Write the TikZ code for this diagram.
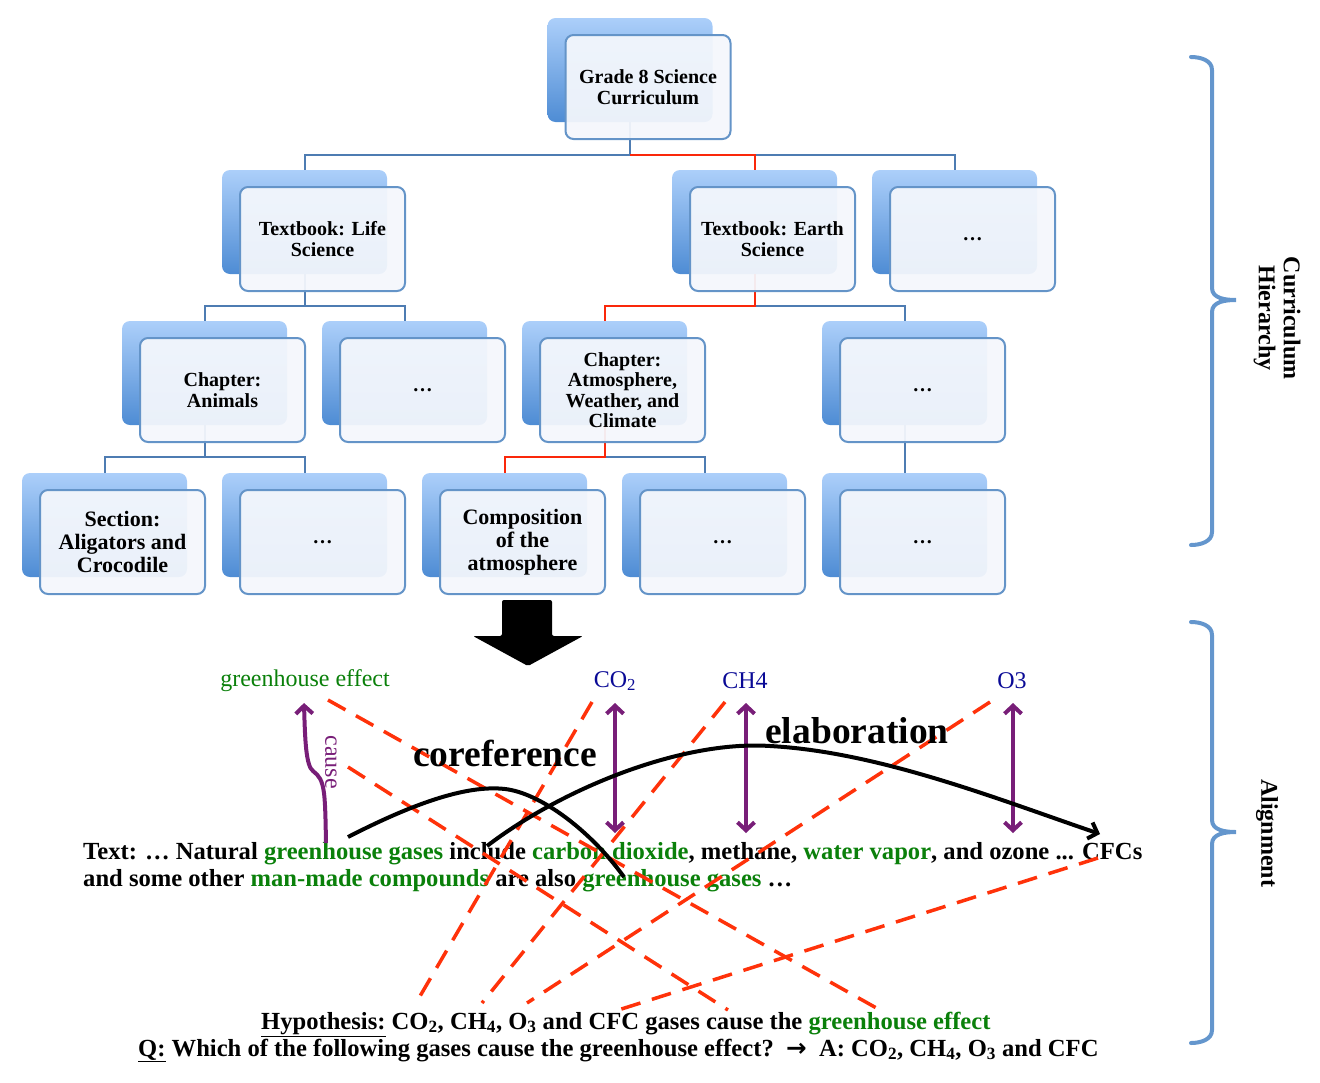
\documentclass[tikz,border=0pt]{standalone}
\usepackage{fontspec}
\setmainfont{Liberation Serif}
\newfontfamily\symfont{DejaVu Sans}
\usepackage{tikz}
\usetikzlibrary{arrows.meta}
\usetikzlibrary{calc}
\usetikzlibrary{positioning}

\definecolor{bxtop}{RGB}{172,207,250}
\definecolor{bxbot}{RGB}{78,140,212}
\definecolor{bxline}{RGB}{100,148,200}
\definecolor{bxfill}{RGB}{244,247,252}
\definecolor{treeline}{RGB}{78,124,178}
\definecolor{treered}{RGB}{250,40,10}
\definecolor{dashred}{RGB}{255,50,10}
\definecolor{gasgreen}{RGB}{10,128,10}
\definecolor{gasblue}{RGB}{10,10,150}
\definecolor{relpurple}{RGB}{120,30,120}
\definecolor{bracecol}{RGB}{100,150,205}

\newcommand{\gr}[1]{\textcolor{gasgreen}{#1}}
\newcommand{\tsub}[1]{\textsubscript{#1}}

\begin{document}
\begin{tikzpicture}[
	x=1pt, y=-1pt,
  > = {Straight Barb[length=8pt,width=17pt]},
  backbox/.style = {rounded corners=8pt, minimum width=165pt, minimum height=104pt, top color=bxtop, bottom color=bxbot},
  frontbox/.style = {draw=bxline, line width=2pt, rounded corners=8pt, minimum width=165pt, minimum height=104pt,
    fill=bxfill, fill opacity=0.94, text opacity=1, align=center, font=\fontsize{20}{20.5}\selectfont\bfseries},
  bigbox/.style = {frontbox, font=\fontsize{22}{23}\selectfont\bfseries},
  tree/.style = {draw=treeline, line width=2pt},
  hot/.style = {draw=treered, line width=2pt},
  corr/.style = {dashred, line width=3.5pt, dash pattern=on 20pt off 12pt},
  rel/.style = {relpurple, line width=4pt},
  curve/.style = {black, line width=4pt},
  txt/.style = {font=\fontsize{24.6}{27}\selectfont\bfseries, inner sep=0pt},
  word/.style = {font=\fontsize{24}{27}\selectfont, inner sep=0pt},
  brace/.style = {bracecol, line width=4pt, line cap=round}
  ]
	\useasboundingbox (0,0) rectangle (1320,1082);

	% hierarchy: back boxes
	\foreach \n/\x/\y in {grade/648/87, life/322.5/239, earth/772.5/239, more1/972.5/239,
	    animals/222.5/390, more2/422.5/390, atmos/622.5/390, more3/922.5/390,
	    section/122.5/542, more4/322.5/542, compo/522.5/542, more5/722.5/542, more6/922.5/542}
	  \node[backbox] (b\n) at (\x-18,\y-17) {};

	% connectors
	\draw[tree] (bgrade.south) -- ++(0,33) -| (blife.north);
	\draw[tree] (bgrade.south) -- ++(0,33) -| (bmore1.north);
	\draw[hot] ($(bgrade.south)+(0,33)$) -| (bearth.north);
	\draw[tree] (blife.south) -- ++(0,32) -| (banimals.north);
	\draw[tree] (blife.south) -- ++(0,32) -| (bmore2.north);
	\draw[tree] (bearth.south) -- ++(0,32) -| (bmore3.north);
	\draw[hot] (bearth.south) -- ++(0,32) -| (batmos.north);
	\draw[tree] (banimals.south) -- ++(0,32) -| (bsection.north);
	\draw[tree] (banimals.south) -- ++(0,32) -| (bmore4.north);
	\draw[tree] (batmos.south) -- ++(0,32) -| (bmore5.north);
	\draw[hot] (batmos.south) -- ++(0,32) -| (bcompo.north);
	\draw[tree] (bmore3.south) -- (bmore6.north);

	% hierarchy: front boxes
	\node[frontbox] (grade) at (648,87) {Grade 8 Science\\Curriculum};
	\node[frontbox] (life) at (322.5,239) {Textbook: Life\\Science};
	\node[frontbox] (earth) at (772.5,239) {Textbook: Earth\\Science};
	\node[frontbox] (more1) at (972.5,239) {…};
	\node[frontbox] (animals) at (222.5,390) {Chapter:\\Animals};
	\node[frontbox] (more2) at (422.5,390) {…};
	\node[frontbox] (atmos) at (622.5,390) {Chapter:\\Atmosphere,\\Weather, and\\Climate};
	\node[frontbox] (more3) at (922.5,390) {…};
	\node[bigbox] (section) at (122.5,542) {Section:\\Aligators and\\Crocodile};
	\node[frontbox] (more4) at (322.5,542) {…};
	\node[bigbox] (compo) at (522.5,542) {Composition\\of the\\atmosphere};
	\node[frontbox] (more5) at (722.5,542) {…};
	\node[frontbox] (more6) at (922.5,542) {…};

	% big arrow
	\fill[black, rounded corners=2pt] (502,600) -- (552,600) -- (552,636) -- (583,636) -- (528,666) -- (473,636) -- (502,636) -- cycle;

	% braces
	\draw[brace] (1191,57) to[out=0,in=90] (1212,70) -- (1212,288) to[out=-90,in=180] (1236,300)
	  to[out=180,in=90] (1212,312) -- (1212,532) to[out=-90,in=0] (1191,545);
	\draw[brace] (1191,622) to[out=0,in=90] (1212,635) -- (1212,820) to[out=-90,in=180] (1236,832)
	  to[out=180,in=90] (1212,844) -- (1212,1030) to[out=-90,in=0] (1191,1043);
	\node[rotate=-90, align=center, font=\fontsize{24}{25}\selectfont\bfseries] (hier) at (1277,318) {Curriculum\\Hierarchy};
	\node[rotate=-90, font=\fontsize{24}{25}\selectfont\bfseries] (align) at (1267,833) {Alignment};

	% alignment: words
	\node[word, gasgreen] (ge) at (305,681) {greenhouse effect};
	\node[word, gasblue] (co2) at (615,681) {CO\tsub{2}};
	\node[word, gasblue] (ch4) at (745,681) {CH4};
	\node[word, gasblue] (o3) at (1012,681) {O3};
	\node[word, relpurple, rotate=-90] (cause) at (331,762) {cause};

	\node[txt, anchor=base west] (text1) at (83,859) {Text: … Natural \gr{greenhouse gases} include \gr{carbon dioxide}, methane, \gr{water vapor}, and ozone ... CFCs};
	\node[txt, anchor=base west] (text2) at (83,886) {and some other \gr{man-made compounds} are also \gr{greenhouse gases} …};
	\node[txt, anchor=base west] (hyp) at (261,1029) {\underline{Hypothesis:} CO\tsub{2}, CH\tsub{4}, O\tsub{3} and CFC gases cause the \gr{greenhouse effect}};
	\node[txt, anchor=base west] (quest) at (138,1056) {\underline{Q:} Which of the following gases cause the greenhouse effect?~~{\symfont\bfseries →}~~A: CO\tsub{2}, CH\tsub{4}, O\tsub{3} and CFC};

	% alignment: dashed links
	\coordinate (ge-top) at (328,700);
	\coordinate (ge-hyp) at (880,1010);
	\coordinate (gg-top) at (348,767);
	\coordinate (cause-hyp) at (728,1010);
	\coordinate (co2-top) at (592,702);
	\coordinate (co2-hyp) at (416,1003);
	\coordinate (ch4-top) at (725,702);
	\coordinate (ch4-hyp) at (482,1003);
	\coordinate (o3-top) at (990,702);
	\coordinate (o3-hyp) at (527,1003);
	\coordinate (cfc-text) at (1098,858);
	\coordinate (cfc-hyp) at (612,1012);

	\draw[corr] (ge-top) -- (ge-hyp);
	\draw[corr] (gg-top) -- (cause-hyp);
	\draw[corr] (co2-top) -- (co2-hyp);
	\draw[corr] (ch4-top) -- (ch4-hyp);
	\draw[corr] (o3-top) -- (o3-hyp);
	\draw[corr] (cfc-text) -- (cfc-hyp);

	% relations
	\draw[rel,<->] ($(co2)+(0,22)$) -- ($(co2)+(0,152)$);
	\draw[rel,<->] ($(ch4)+(1,22)$) -- ($(ch4)+(1,152)$);
	\draw[rel,<->] ($(o3)+(1,22)$) -- ($(o3)+(1,152)$);
	\draw[rel,->] (326,843) .. controls (325,790) and (325,780) .. (313,771) .. controls (306,766) and (305,740) .. (304,703);

	\draw[curve] (348,837) .. controls (420,800) and (470,785) .. (505,789) .. controls (540,793) and (590,830) .. (624,877);
	\draw[curve,->] (487,846) .. controls (560,790) and (680,740) .. (770,746) .. controls (880,752) and (1000,800) .. (1100,834);
	\node[font=\fontsize{37.5}{37.5}\selectfont\bfseries] (coref) at (505,753) {coreference};
	\node[font=\fontsize{37.5}{37.5}\selectfont\bfseries] (elab) at (857,731) {elaboration};

\end{tikzpicture}
\end{document}
